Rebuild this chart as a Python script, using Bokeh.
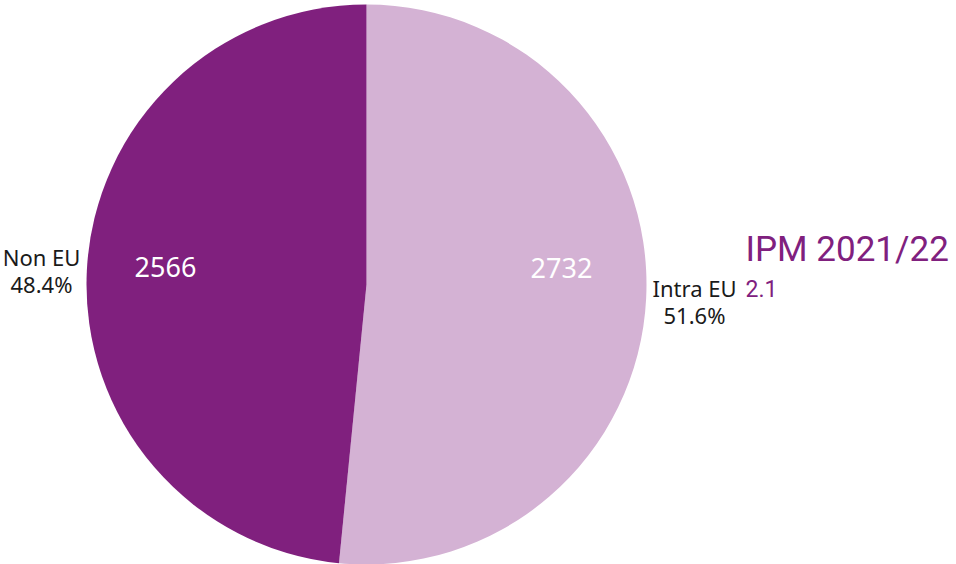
import math
from bokeh.plotting import figure
from bokeh.models import ColumnDataSource
from bokeh.core.properties import value
from bokeh.embed import file_html
from bokeh.resources import INLINE

# Data
categories = ["Intra EU", "Non EU"]
values = [2732, 2566]
colors = ["#D4B2D4", "#80207E"]
title_text = "IPM 2021/22"
subtitle_text = "2.1"

W, H = 956, 564
p = figure(width=W, height=H, x_range=(0, W), y_range=(0, H),
           output_backend="svg", toolbar_location=None, min_border=0)
p.axis.visible = False
p.grid.visible = False
p.outline_line_color = None
p.background_fill_color = "white"
p.border_fill_color = "white"

cx, cy, r = 366, H - 284, 280
total = sum(values)
fracs = [v / total for v in values]

# angles: start at top, clockwise
starts, ends = [], []
a = math.pi / 2
for f in fracs:
    b = a - f * 2 * math.pi
    starts.append(b)
    ends.append(a)
    a = b

src = ColumnDataSource(dict(x=[cx] * 2, y=[cy] * 2, start=starts, end=ends,
                            color=colors, cat=categories))
p.wedge(x="x", y="y", radius=r, start_angle="start", end_angle="end",
        fill_color="color", line_color=None, source=src)

font = value("Noto Sans")
tfont = value("Roboto")
# value labels inside slices
inner_x = [561, 165]
inner_y = [H - 267, H - 266]
p.text(x=inner_x, y=inner_y, text=[str(v) for v in values], text_color="white",
       text_font=font, text_font_size="27px", text_align="center",
       text_baseline="middle")

# outside labels
pct = [f"{f*100:.1f}%" for f in fracs]
out_x = [694, 41]
out_y1 = [H - 287, H - 256]
p.text(x=out_x, y=out_y1, text=categories, text_color="#1a1a1a",
       text_font=font, text_font_size="22px", text_align="center",
       text_baseline="middle")
p.text(x=out_x, y=[y - 27 for y in out_y1], text=pct, text_color="#1a1a1a",
       text_font=font, text_font_size="22px", text_align="center",
       text_baseline="middle")

# title
p.text(x=[745], y=[H - 249], text=[title_text], text_color="#80207E",
       text_font=tfont, text_font_size="35px", text_align="left",
       text_baseline="middle")
p.text(x=[745], y=[H - 288], text=[subtitle_text], text_color="#80207E",
       text_font=tfont, text_font_size="23px", text_align="left",
       text_baseline="middle")

open("out.html", "w").write(file_html(p, INLINE))
